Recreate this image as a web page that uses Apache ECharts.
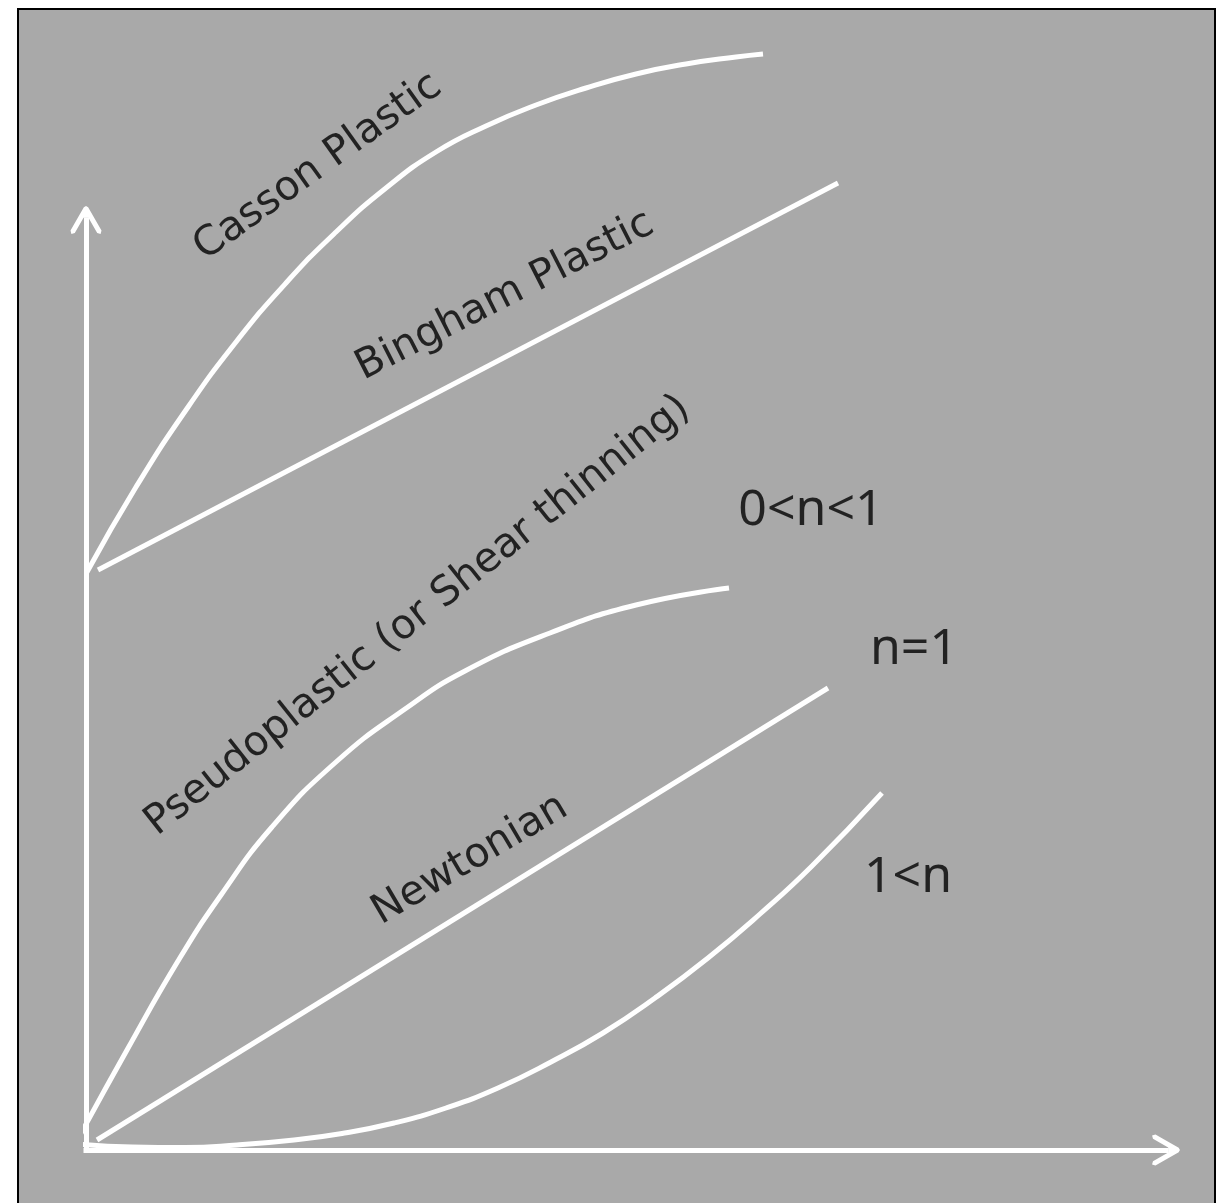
<!DOCTYPE html>
<html>
<head>
<meta charset="utf-8">
<script src="https://cdn.jsdelivr.net/npm/echarts@6/dist/echarts.min.js"></script>
<style>
  html, body { margin: 0; padding: 0; background: #fff; }
  #chart { width: 1221px; height: 1203px; }
</style>
</head>
<body>
<div id="chart"></div>
<script>
// 曲线数据 (x: 剪切速率, y: 剪切应力), 每个单位约 10px
var cassonData = [[0.1, 57.8], [5, 66.3], [10, 74.0], [15, 80.8], [20, 86.7], [25, 91.8],
  [30, 96.2], [35, 99.8], [40, 102.4], [45, 104.5], [50, 106.2], [55, 107.6],
  [60, 108.6], [65, 109.3], [67.7, 109.6]];
var binghamData = [[1.2, 58.0], [75.2, 96.7]];
var pseudoData = [[-0.7, 1.3], [4.1, 10.0], [9.2, 18.9], [13.5, 25.5], [18.6, 32.3], [25.0, 38.8],
  [31.9, 44.1], [37.9, 47.9], [46.4, 51.7], [55.0, 54.5], [64.3, 56.2]];
var newtonData = [[1.1, 1.0], [74.2, 46.2]];
var dilatantData = [[-0.8, 0.6], [4.6, 0.3], [9.9, 0.25], [15.1, 0.5], [20.3, 0.95], [25.6, 1.65],
  [30.8, 2.7], [36.0, 4.2], [41.2, 6.2], [46.5, 8.8], [51.7, 11.7], [56.9, 15.2], [62.2, 19.2],
  [67.4, 23.6], [72.6, 28.4], [79.6, 35.7]];

// 斜向文字标注
var curveLabels = ['Casson Plastic', 'Bingham Plastic', 'Pseudoplastic (or Shear thinning)', 'Newtonian'];
var curveLabelPos = [[23.2, 98.3], [41.9, 85.4], [33.2, 53.4], [38.4, 29.0]];
var curveLabelAngle = [35.5, 27, 38.4, 30.5];

// n 值标注
var indexLabels = ['0<n<1', 'n=1', '1<n'];
var indexLabelPos = [[72.5, 63.9], [82.8, 50.0], [82.2, 27.2]];

// 开口箭头
var ARROW = 'path://M15.668,0L13.5,1.255L0,24.755L0.923,28.168L4.336,27.245L13.168,11.871L18.168,11.871L27,27.245L30.413,28.168L31.336,24.755L17.836,1.255Z';

var myChart = echarts.init(document.getElementById('chart'));

function curve(data) {
  return {
    type: 'line',
    data: data,
    smooth: data.length > 2 ? 0.5 : false,
    showSymbol: false,
    clip: false,
    lineStyle: { color: '#fff', width: 5 },
    z: 3
  };
}

function axis(max) {
  return {
    type: 'value',
    min: 0,
    max: max,
    axisLine: {
      show: true,
      symbol: ['none', ARROW],
      symbolSize: [31, 28],
      lineStyle: { color: '#fff', width: 5, cap: 'square' }
    },
    axisTick: { show: false },
    axisLabel: { show: false },
    splitLine: { show: false }
  };
}

var labelData = [];
for (var i = 0; i < curveLabels.length; i++) {
  labelData.push({
    value: curveLabelPos[i],
    label: { formatter: curveLabels[i], rotate: curveLabelAngle[i] }
  });
}
var indexData = [];
for (var j = 0; j < indexLabels.length; j++) {
  indexData.push({ value: indexLabelPos[j], label: { formatter: indexLabels[j] } });
}

var option = {
  backgroundColor: '#fff',
  animation: false,
  graphic: [{
    type: 'rect',
    z: -10,
    silent: true,
    shape: { x: 18, y: 9, width: 1197, height: 1210 },
    style: { fill: '#a9a9a9', stroke: '#000', lineWidth: 2 }
  }],
  grid: { left: 86, right: 55, top: 220, bottom: 53 },
  xAxis: axis(108),
  yAxis: axis(93),
  series: [
    curve(cassonData),
    curve(binghamData),
    curve(pseudoData),
    curve(newtonData),
    curve(dilatantData),
    {
      type: 'scatter',
      symbolSize: 0,
      clip: false,
      data: labelData,
      label: {
        show: true,
        position: 'inside',
        color: '#000',
        fontFamily: 'DejaVu Sans',
        fontSize: 41
      },
      z: 4
    },
    {
      type: 'scatter',
      symbolSize: 0,
      clip: false,
      data: indexData,
      label: {
        show: true,
        position: 'inside',
        color: '#000',
        fontFamily: 'Noto Sans',
        fontSize: 50
      },
      z: 4
    }
  ]
};
myChart.setOption(option);
</script>
</body>
</html>
